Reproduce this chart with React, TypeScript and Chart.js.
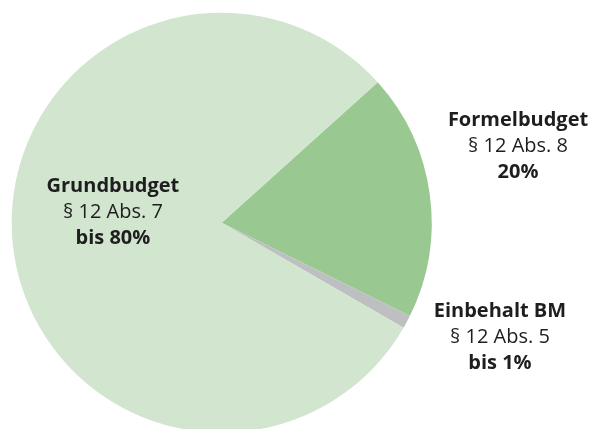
import React, { useEffect, useRef } from "react";
import { Chart, registerables } from "chart.js";

Chart.register(...registerables);

const categories = ["Formelbudget", "Einbehalt BM", "Grundbudget"];
const shares = [19, 1, 80];
const paragraphs = ["§ 12 Abs. 8", "§ 12 Abs. 5", "§ 12 Abs. 7"];
const shareLabels = ["20%", "bis 1%", "bis 80%"];
const colors = ["#99c891", "#bebfc1", "#d1e5cf"];

// label anchor offsets (in units of the pie radius) from the pie centre
const labelOffsets: [number, number][] = [
  [1.411, -0.338],
  [1.325, 0.574],
  [-0.518, -0.021],
];

const labelPlugin = {
  id: "sliceLabels",
  afterDatasetsDraw(chart: any) {
    const meta = chart.getDatasetMeta(0);
    const ctx = chart.ctx;
    ctx.save();
    ctx.fillStyle = "#1e1e1e";
    ctx.textAlign = "center";
    ctx.textBaseline = "alphabetic";
    meta.data.forEach((arc: any, i: number) => {
      const { x, y, outerRadius } = arc.getProps(["x", "y", "outerRadius"], true);
      const cx = x + labelOffsets[i][0] * outerRadius;
      const cy = y + labelOffsets[i][1] * outerRadius;
      const lh = 26;
      ctx.font = "bold 20px 'Open Sans'";
      ctx.fillText(categories[i], cx, cy - lh);
      ctx.font = "20px 'Open Sans'";
      ctx.fillText(paragraphs[i], cx, cy);
      ctx.font = "bold 20px 'Open Sans'";
      ctx.fillText(shareLabels[i], cx, cy + lh);
    });
    ctx.restore();
  },
};

export default function App() {
  const ref = useRef<HTMLCanvasElement | null>(null);
  useEffect(() => {
    if (!ref.current) return;
    const chart = new Chart(ref.current, {
      type: "pie",
      data: {
        labels: categories,
        datasets: [
          {
            data: shares,
            backgroundColor: colors,
            borderWidth: 0,
            hoverOffset: 0,
            offset: 0,
          },
        ],
      },
      options: {
        responsive: false,
        animation: false,
        devicePixelRatio: 1,
        rotation: 48,
        layout: { padding: { left: 11.7, top: 12.7, right: 159.3, bottom: 12.3 } },
        plugins: {
          legend: { display: false },
          tooltip: { enabled: false },
        },
        events: [],
      },
      plugins: [labelPlugin],
    });
    return () => chart.destroy();
  }, []);
  return (
    <div
      style={{
        position: "fixed",
        left: 0,
        top: 0,
        width: 591,
        height: 429,
        overflow: "hidden",
        background: "#ffffff",
      }}
    >
      <canvas ref={ref} width={591} height={445} style={{ display: "block", width: 591, height: 445 }} />
    </div>
  );
}
